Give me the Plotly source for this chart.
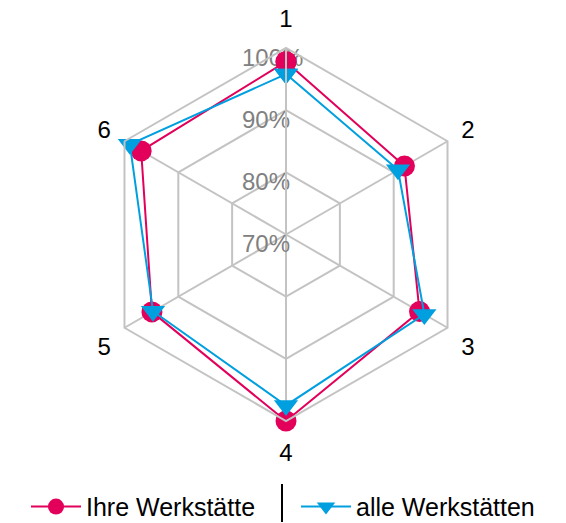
import plotly.graph_objects as go

categories = ["1", "2", "3", "4", "5", "6"]
ihre = [0.978, 0.920, 0.948, 1.000, 0.949, 0.969]
alle = [0.958, 0.908, 0.957, 0.975, 0.947, 0.990]
radial_ticks = [0.7, 0.8, 0.9, 1.0]
radial_labels = ["70%", "80%", "90%", "100%"]

RED = "#E2005A"
BLUE = "#009FDF"
GRID = "#C3C3C3"
FONT = "Liberation Sans, Arial, sans-serif"
FIG_SPACE = "\u2007"

def closed(vals):
    return list(vals) + [vals[0]]

# pad labels with figure spaces so they share a common left edge
maxlen = max(len(t) for t in radial_labels)
padded = [t + FIG_SPACE * (maxlen - len(t) + 2) for t in radial_labels]

fig = go.Figure()
# radial tick labels drawn along the first axis (beneath the data)
fig.add_trace(go.Scatterpolar(
    r=radial_ticks, theta=[categories[0]] * len(radial_ticks),
    mode="text", text=padded, textposition="bottom center",
    textfont=dict(color="#808080", size=24, family=FONT),
    showlegend=False, hoverinfo="skip", cliponaxis=False,
))
fig.add_trace(go.Scatterpolar(
    r=closed(ihre), theta=closed(categories), name="Ihre Werkstätte",
    mode="lines+markers", line=dict(color=RED, width=2),
    marker=dict(symbol="circle", size=21, color=RED), cliponaxis=False,
))
fig.add_trace(go.Scatterpolar(
    r=closed(alle), theta=closed(categories), name="alle Werkstätten",
    mode="lines+markers", line=dict(color=BLUE, width=2),
    marker=dict(symbol="triangle-down", size=21, color=BLUE), cliponaxis=False,
))

fig.update_layout(
    width=566, height=523,
    margin=dict(l=6, r=0, t=48, b=102),
    paper_bgcolor="white", plot_bgcolor="white",
    font=dict(family=FONT, size=24, color="black"),
    polar=dict(
        bgcolor="white",
        gridshape="linear",
        radialaxis=dict(
            range=[0.6999, 1.0], tickvals=radial_ticks, showticklabels=False,
            angle=90,
            showline=True, linecolor=GRID, linewidth=2,
            gridcolor=GRID, gridwidth=2, ticks="",
        ),
        angularaxis=dict(
            direction="clockwise", rotation=90,
            showline=True, linecolor=GRID, linewidth=2,
            gridcolor=GRID, gridwidth=2,
            ticks="outside", ticklen=10, tickcolor="rgba(0,0,0,0)",
            tickfont=dict(color="black", size=24, family=FONT),
        ),
    ),
    legend=dict(
        orientation="h", x=0.0357, xanchor="left",
        yref="container", y=0.031, yanchor="middle",
        bgcolor="rgba(0,0,0,0)",
        font=dict(size=25, color="black", family=FONT),
        itemwidth=50, entrywidth=205, entrywidthmode="pixels",
    ),
    shapes=[dict(
        type="line", xref="paper", yref="paper", layer="above",
        x0=(282 - 6) / 560, x1=(282 - 6) / 560,
        y0=-0.2708, y1=-0.1689,
        line=dict(color="black", width=2),
    )],
)

fig.write_html("out.html")
